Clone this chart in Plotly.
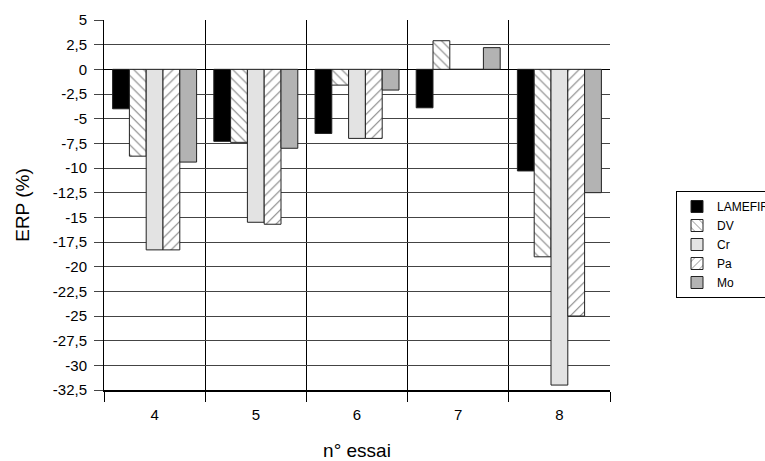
import plotly.graph_objects as go

categories = ["4", "5", "6", "7", "8"]
series_names = ["LAMEFIRE", "DV", "Cr", "Pa", "Mo"]
lamefir = [-4.0, -7.3, -6.5, -3.9, -10.3]
dv = [-8.8, -7.4, -1.6, 2.9, -19.0]
cr = [-18.3, -15.5, -7.0, 0.0, -32.0]
pa = [-18.3, -15.7, -7.0, 0.0, -25.0]
mo = [-9.4, -8.0, -2.1, 2.2, -12.5]

y_tickvals = [5, 2.5, 0, -2.5, -5, -7.5, -10, -12.5, -15, -17.5, -20, -22.5, -25, -27.5, -30, -32.5]
y_ticktext = ["5", "2,5", "0", "-2,5", "-5", "-7,5", "-10", "-12,5", "-15", "-17,5", "-20",
              "-22,5", "-25", "-27,5", "-30", "-32,5"]

styles = [
    dict(color="black", pattern=None),
    dict(color="white", pattern=dict(shape="\\", fgcolor="black", bgcolor="white", size=7, solidity=0.15)),
    dict(color="#e3e3e3", pattern=None),
    dict(color="white", pattern=dict(shape="/", fgcolor="black", bgcolor="white", size=7, solidity=0.15)),
    dict(color="#b3b3b3", pattern=None),
]

fig = go.Figure()
for name, vals, st in zip(series_names, [lamefir, dv, cr, pa, mo], styles):
    marker = dict(color=st["color"], line=dict(color="#222222", width=1))
    if st["pattern"]:
        marker["pattern"] = st["pattern"]
    fig.add_trace(go.Bar(x=categories, y=vals, name=name, marker=marker))

font_family = "Liberation Sans, Arial, sans-serif"
fig.update_layout(
    width=765, height=461,
    barmode="group", bargap=0.17, bargroupgap=0,
    paper_bgcolor="white", plot_bgcolor="white",
    margin=dict(l=104, r=155, t=20, b=71, autoexpand=False),
    font=dict(family=font_family, size=15, color="black"),
    legend=dict(
        x=(676 - 104) / 506, y=(390 - 191) / 370, xanchor="left", yanchor="top",
        bordercolor="black", borderwidth=1, bgcolor="white",
        font=dict(size=12, family=font_family), tracegroupgap=0, itemwidth=30,
    ),
    showlegend=True,
)
fig.update_xaxes(
    type="category", tickson="boundaries", ticks="outside", ticklen=10, tickcolor="black",
    showgrid=True, gridcolor="black", gridwidth=1,
    showline=True, linecolor="black", linewidth=2,
    tickfont=dict(size=15), ticklabelstandoff=10,
    title=dict(text="n° essai", font=dict(size=19), standoff=22),
)
fig.update_yaxes(
    range=[-32.5, 5], tickvals=y_tickvals, ticktext=y_ticktext,
    ticks="outside", ticklen=9, tickcolor="#444", showgrid=True, gridcolor="#444", gridwidth=1,
    zeroline=True, zerolinecolor="black", zerolinewidth=1,
    showline=True, linecolor="black", linewidth=1,
    tickfont=dict(size=15), ticklabelstandoff=4,
    title=dict(text="ERP (%)", font=dict(size=19), standoff=18),
)
fig.write_html("out.html")
